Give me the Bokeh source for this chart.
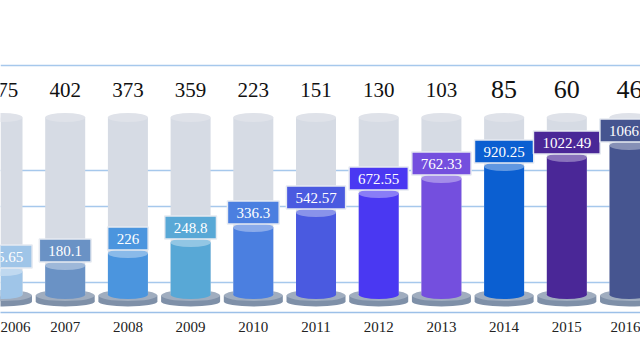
from bokeh.plotting import figure
from bokeh.models import Range1d, FixedTicker, Grid, ColumnDataSource
from bokeh.core.properties import value
from bokeh.embed import file_html
from bokeh.resources import INLINE

# ---- data ----
years = ["2006", "2007", "2008", "2009", "2010", "2011", "2012", "2013", "2014", "2015", "2016"]
values = [135.65, 180.1, 226, 248.8, 336.3, 542.57, 672.55, 762.33, 920.25, 1022.49, 1066.5]
top_counts = [475, 402, 373, 359, 223, 151, 130, 103, 85, 60, 46]
# apparent cylinder heights (pictorial scale)
bar_levels = [161, 203, 287, 364, 469, 574, 707, 812, 896, 959, 1043]
capacity_level = 1239
bar_colors = ["#9fc5e8", "#6a92c5", "#4b95de", "#58a8d6", "#4b7fe0", "#4a5ae0",
              "#4a38f2", "#744fde", "#0b5fd1", "#4a2797", "#465590"]
grid_ticks = [84, 618, 865, 1603]

UNITS_PER_PX = 7.0
SERIF = "Liberation Serif"


def lighten(hex_color, f):
    h = hex_color.lstrip("#")
    r, g, b = (int(h[i:i + 2], 16) for i in (0, 2, 4))
    r = int(r + (255 - r) * f)
    g = int(g + (255 - g) * f)
    b = int(b + (255 - b) * f)
    return "#%02x%02x%02x" % (r, g, b)


idx = list(range(len(years)))
labels = [f"{v:g}" for v in values]
label_w = [sum(3.75 if ch == "." else 7.5 for ch in s) + 18 for s in labels]

src = ColumnDataSource(dict(
    x=idx,
    level=bar_levels,
    color=bar_colors,
    top_color=[lighten(c, 0.35) for c in bar_colors],
    label=labels,
    label_y=[lv + 15 * UNITS_PER_PX for lv in bar_levels],
    label_w=label_w,
    cap=[capacity_level] * len(idx),
    count=[str(c) for c in top_counts],
    count_size=["26px" if c < 100 else "21px" for c in top_counts],
    count_y=[205 * UNITS_PER_PX] * len(idx),
    zero=[0] * len(idx),
    base_top=[-1 * UNITS_PER_PX] * len(idx),
    base_bot=[-7 * UNITS_PER_PX] * len(idx),
))

p = figure(width=640, height=350, output_backend="svg", toolbar_location=None,
           x_range=Range1d(-0.0319, 10.175), y_range=Range1d(-126, 2058),
           min_border_left=0, min_border_right=0, min_border_top=0, min_border_bottom=38,
           y_axis_location=None)
p.outline_line_color = None
p.background_fill_color = "white"
p.border_fill_color = "white"
for g in list(p.grid):
    g.visible = False

p.add_layout(Grid(dimension=1, ticker=FixedTicker(ticks=grid_ticks),
                  grid_line_color="#a6c8ec", grid_line_width=1.5))

ax = p.xaxis[0]
ax.ticker = FixedTicker(ticks=idx)
ax.major_label_overrides = {i: y for i, y in zip(idx, years)}
ax.major_label_text_font = SERIF
ax.major_label_text_font_size = "15px"
ax.major_label_text_color = "#222222"
ax.major_tick_line_color = None
ax.minor_tick_line_color = None
ax.major_label_standoff = 3
ax.axis_line_color = "#9cc0e8"
ax.axis_line_width = 1.5

BAR_W = 40 / 62.7
BASE_W = 59 / 62.7

# base discs
p.ellipse("x", "base_bot", width=59, height=10, width_units="screen", height_units="screen",
          source=src, fill_color="#7f90a8", line_color=None)
p.vbar("x", width=BASE_W, top="base_top", bottom="base_bot", source=src,
       fill_color="#7f90a8", line_color=None)
p.ellipse("x", "base_top", width=59, height=11, width_units="screen", height_units="screen",
          source=src, fill_color="#a0adbf", line_color=None)

# grey capacity cylinders
p.vbar("x", width=BAR_W, top="cap", bottom="zero", source=src,
       fill_color="#d6dbe4", line_color=None)
p.ellipse("x", "cap", width=40, height=9, width_units="screen", height_units="screen",
          source=src, fill_color="#dfe2e9", line_color=None)

# coloured cylinders
p.ellipse("x", "zero", width=40, height=9, width_units="screen", height_units="screen",
          source=src, fill_color="color", line_color=None)
p.vbar("x", width=BAR_W, top="level", bottom="zero", source=src,
       fill_color="color", line_color=None)
p.ellipse("x", "level", width=40, height=9, width_units="screen", height_units="screen",
          source=src, fill_color="top_color", line_color=None)

# value label boxes
p.rect("x", "label_y", width="label_w", height=23, width_units="screen", height_units="screen",
       source=src, fill_color="color", line_color="#e6eaf1", line_width=1.5)
p.text("x", "label_y", text="label", source=src, text_align="center", text_baseline="middle",
       text_color="white", text_font=value(SERIF), text_font_size="15px")

# top counts
p.text("x", "count_y", text="count", source=src, text_align="center", text_baseline="middle",
       text_color="#111111", text_font=value(SERIF), text_font_size="count_size")

open("out.html", "w").write(file_html(p, INLINE))
